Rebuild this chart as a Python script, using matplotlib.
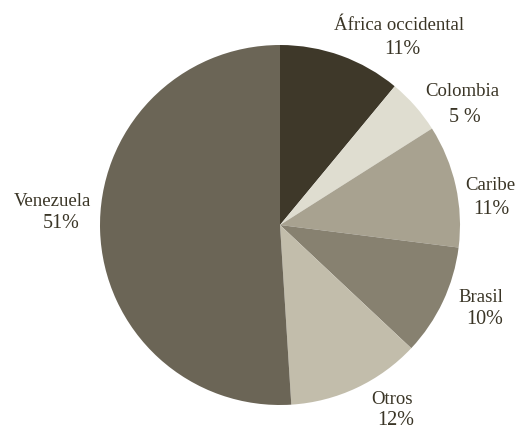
import matplotlib
matplotlib.use("Agg")
import matplotlib.pyplot as plt

categories = ["África occidental", "Colombia", "Caribe", "Brasil", "Otros", "Venezuela"]
values = [11, 5, 11, 10, 12, 51]
pct_labels = ["11%", "5 %", "11%", "10%", "12%", "51%"]
colors = ["#3e3829", "#dfddd0", "#a8a290", "#878170", "#c2bdab", "#6b6556"]
# label anchor positions (pixel space, y from top): name center, pct center
name_pos = [(399, 25), (462, 92), (490, 186), (481, 297), (392, 400), (52, 201)]
pct_pos = [(402, 50), (465, 117), (491, 209), (485, 320), (396, 421), (61, 224)]

W, H = 527, 431
fig = plt.figure(figsize=(W / 100, H / 100), dpi=100)
ax = fig.add_axes([0, 0, 1, 1])

cx, cy, r = 280, H - 226, 180
ax.pie(values, colors=colors, startangle=90, counterclock=False,
       center=(cx, cy), radius=r, frame=True,
       wedgeprops=dict(linewidth=0))
ax.set_xlim(0, W)
ax.set_ylim(0, H)
ax.set_aspect("equal")
ax.axis("off")

txt_color = "#3a3526"
for name, pct, (nx, ny), (px, py) in zip(categories, pct_labels, name_pos, pct_pos):
    ax.text(nx, H - ny, name, ha="center", va="center",
            fontsize=13.5, family="Liberation Serif", color=txt_color)
    ax.text(px, H - py, pct, ha="center", va="center",
            fontsize=14.5, family="Liberation Serif", color=txt_color)

fig.savefig("out.png", dpi=100)
